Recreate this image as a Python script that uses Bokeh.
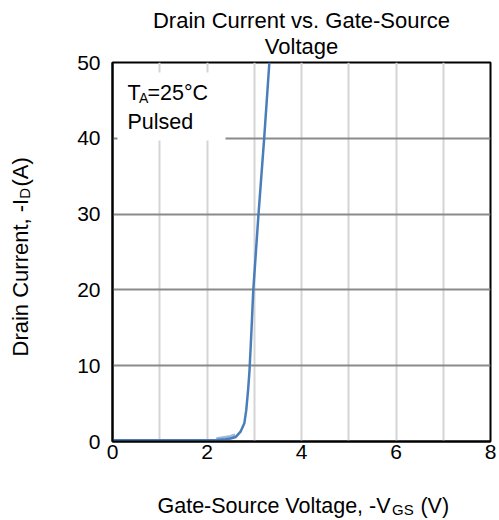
import math
from bokeh.plotting import figure
from bokeh.models import Label, BoxAnnotation, FixedTicker, Range1d
from bokeh.embed import file_html
from bokeh.resources import INLINE

# ---- data ----
vgs = [0.0, 1.0, 2.0, 2.2, 2.4, 2.5, 2.61, 2.71, 2.79, 2.83, 2.87, 2.90, 2.94, 2.98, 3.09, 3.21, 3.32]
id_a = [0.15, 0.15, 0.15, 0.2, 0.3, 0.4, 0.6, 1.3, 2.4, 4.1, 6.8, 9.4, 14.5, 20.0, 30.0, 40.0, 50.0]
# small spread of traces around the knee (thicker part of the curve)
vgs_knee = [2.2, 2.3, 2.4, 2.5, 2.6]
id_knee = [0.3, 0.4, 0.5, 0.6, 0.8]

x_ticks = [0, 2, 4, 6, 8]
y_ticks = [0, 10, 20, 30, 40, 50]
x_grid = [1, 2, 3, 4, 5, 6, 7]
y_grid = [10, 20, 30, 40]

title_lines = ["Drain Current vs. Gate-Source", "Voltage"]
FONT = "Liberation Sans"
BLUE = "#4a7ebb"
NBSP = "\u00a0"

# ---- layout (figure pixel coordinates) ----
W, H = 499, 520
FL, FR, FT, FB = 112, 490, 62, 441
X0, X1, Y0, Y1 = 0, 8, 0, 50


def dx(fx):
    return X0 + (fx - FL) / (FR - FL) * (X1 - X0)


def dy(fy):
    return Y0 + (FB - fy) / (FB - FT) * (Y1 - Y0)


p = figure(width=W, height=H, x_range=Range1d(X0, X1), y_range=Range1d(Y0, Y1),
           output_backend="svg", toolbar_location=None,
           min_border_left=FL, min_border_right=W - FR,
           min_border_top=FT, min_border_bottom=H - FB)
p.background_fill_color = "white"
p.border_fill_color = "white"
p.outline_line_color = "black"
p.outline_line_width = 2
p.title.visible = False

# grids
p.xgrid.ticker = FixedTicker(ticks=x_grid)
p.xgrid.grid_line_color = "#d4d4d4"
p.xgrid.grid_line_width = 2
p.ygrid.ticker = FixedTicker(ticks=y_grid)
p.ygrid.grid_line_color = "#8a8a8a"
p.ygrid.grid_line_width = 2

# axes
for ax, ticks in ((p.xaxis[0], x_ticks), (p.yaxis[0], y_ticks)):
    ax.ticker = FixedTicker(ticks=ticks)
    ax.axis_line_color = "black"
    ax.axis_line_width = 2
    ax.major_tick_in = 0
    ax.major_tick_out = 0
    ax.minor_tick_line_color = None
    ax.major_label_text_font = FONT
    ax.major_label_text_font_size = "21px"
    ax.major_label_text_color = "black"
p.xaxis[0].major_label_standoff = 3
p.yaxis[0].major_label_standoff = 12

# curve
p.line(vgs_knee, id_knee, line_color=BLUE, line_width=4, line_alpha=0.55)
p.line(vgs, id_a, line_color=BLUE, line_width=2.5)

# legend box
p.add_layout(BoxAnnotation(left=dx(117), right=dx(225), top=dy(72), bottom=dy(140),
                           fill_color="white", fill_alpha=1.0, line_color=None))


def lab(fx, fy, text, size="21.5px", align="left", angle=0.0, place="center"):
    l = Label(x=dx(fx), y=dy(fy), text=text, text_font=FONT,
              text_font_size=size, text_align=align,
              text_baseline="middle", angle=angle, text_color="black")
    p.add_layout(l, place)


# title
lab(301, 20, title_lines[0], size="22px", align="center", place="above")
lab(301, 46, title_lines[1], size="22px", align="center", place="above")

# legend text
lab(127, 92.4, "T")
lab(138.5, 97.5, "A", size="14px")
lab(147, 92.4, "=25°C")
lab(127, 121.3, "Pulsed")

# x axis label: Gate-Source Voltage, -V_GS (V)
lab(157, 505, "Gate-Source Voltage, -V" + NBSP * 5 + "(V)", place="below")
lab(391.5, 508.5, "GS", size="15px", place="below")

# y axis label: Drain Current, -I_D (A)
ang = math.pi / 2
lab(19.5, 356, "Drain Current, -I" + NBSP * 2 + "(A)", size="22px", angle=ang, place="left")
lab(24, 198.3, "D", size="15px", angle=ang, place="left")

open("out.html", "w").write(file_html(p, INLINE))
